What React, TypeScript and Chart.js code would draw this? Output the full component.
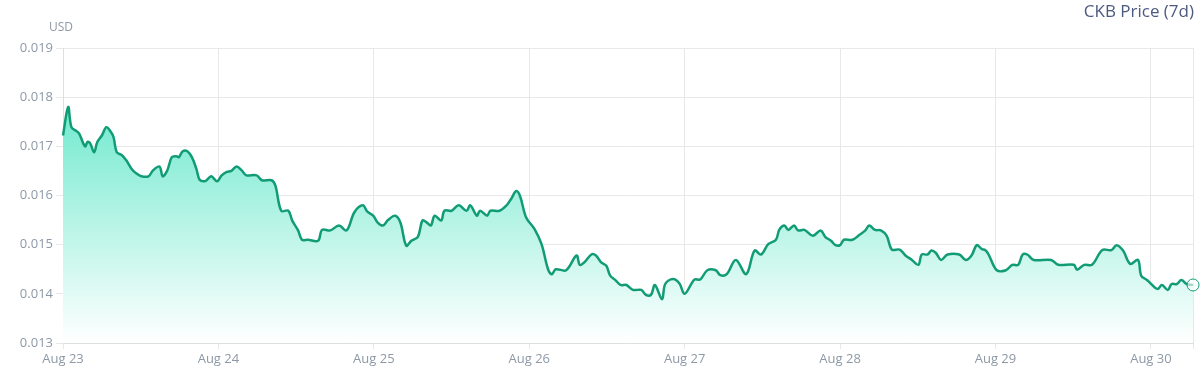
import React, { useEffect, useRef } from "react";
import { Chart, registerables } from "chart.js";

Chart.register(...registerables);

// Hours elapsed since Aug 23 00:00
const hoursFromStart = [
  0, 0.8, 1.3, 2.1, 2.5, 3.4, 3.8, 4.2, 4.8, 5.3, 6.0, 6.7, 7.4, 7.8, 8.3, 9.1, 9.8, 10.6, 11.4, 12.1,
  13.2, 13.9, 14.9, 15.4, 16.1, 16.8, 17.5, 17.9, 18.5, 19.2, 19.9, 20.6, 21.1, 21.9, 22.4, 22.9, 23.8, 24.5, 25.3, 26.0,
  26.8, 27.6, 28.3, 29.9, 30.7, 32.2, 32.8, 33.7, 34.8, 35.4, 36.3, 36.9, 37.8, 39.4, 40.0, 41.3, 42.6, 43.8, 45.0, 46.3,
  47.0, 47.9, 48.6, 49.4, 50.2, 51.3, 52.1, 53.0, 53.8, 54.8, 55.5, 56.1, 56.8, 57.4, 58.4, 58.9, 60.0, 61.1, 62.3, 62.9,
  63.9, 64.4, 65.5, 66.0, 67.4, 68.5, 69.2, 70.0, 70.6, 71.5, 72.8, 73.9, 74.9, 75.5, 76.1, 77.7, 79.3, 79.8, 80.5, 81.6,
  82.3, 83.1, 83.9, 84.5, 85.3, 86.1, 87.0, 88.0, 89.3, 90.0, 90.8, 91.4, 92.5, 93.0, 94.2, 95.2, 96.0, 97.5, 98.4, 99.5,
  100.8, 101.5, 102.5, 103.9, 105.5, 106.8, 107.8, 108.9, 110.1, 110.6, 111.4, 112.0, 112.9, 113.5, 114.5, 115.8, 117.0, 117.7, 118.6, 119.3,
  120.0, 120.6, 121.9, 123.0, 123.9, 124.5, 125.4, 126.3, 127.2, 128.0, 129.2, 130.1, 131.1, 132.1, 132.6, 133.5, 134.1, 134.8, 135.6, 136.6,
  138.4, 139.4, 140.3, 141.1, 141.9, 142.4, 142.9, 144.2, 145.6, 146.6, 147.5, 148.2, 148.9, 149.9, 152.6, 153.7, 156.1, 156.6, 157.7, 158.9,
  160.5, 161.9, 162.7, 163.7, 164.8, 166.0, 166.5, 167.4, 168.6, 169.1, 169.7, 170.6, 171.2, 172.0, 172.7, 173.5, 174.5,
];

const priceUsd = [
  0.01722, 0.0178, 0.01739, 0.01731, 0.01726, 0.017, 0.01709, 0.01706, 0.01688, 0.01709, 0.01722, 0.01739, 0.01729, 0.01719, 0.01688, 0.01682, 0.01671, 0.01654, 0.01644, 0.01639,
  0.01639, 0.01651, 0.01659, 0.01639, 0.01651, 0.01678, 0.0168, 0.01678, 0.0169, 0.0169, 0.01678, 0.01654, 0.01632, 0.01629, 0.01634, 0.01639, 0.01629, 0.01641, 0.01648, 0.0165,
  0.01659, 0.01651, 0.01641, 0.01641, 0.01631, 0.01631, 0.0162, 0.01569, 0.01569, 0.01549, 0.01529, 0.0151, 0.0151, 0.01508, 0.0153, 0.01529, 0.01539, 0.01529, 0.01566, 0.0158,
  0.01567, 0.01559, 0.01545, 0.01539, 0.0155, 0.01559, 0.01545, 0.01498, 0.01508, 0.01516, 0.01549, 0.01546, 0.01539, 0.01559, 0.01549, 0.01569, 0.01569, 0.0158, 0.01569, 0.0158,
  0.01559, 0.01569, 0.01559, 0.01569, 0.01569, 0.0158, 0.01593, 0.01609, 0.01598, 0.01556, 0.01532, 0.01501, 0.0145, 0.0144, 0.0145, 0.01448, 0.01478, 0.01459, 0.01464, 0.0148,
  0.01478, 0.01464, 0.01457, 0.01437, 0.01428, 0.01418, 0.01418, 0.01408, 0.01408, 0.01398, 0.01398, 0.01418, 0.01389, 0.0142, 0.0143, 0.01421, 0.014, 0.01429, 0.01429, 0.01448,
  0.01448, 0.01438, 0.0144, 0.01469, 0.0144, 0.01488, 0.0148, 0.01501, 0.0151, 0.0153, 0.01539, 0.0153, 0.01539, 0.01529, 0.0153, 0.01518, 0.01529, 0.01516, 0.01508, 0.01499,
  0.01499, 0.0151, 0.0151, 0.0152, 0.01529, 0.01539, 0.0153, 0.01529, 0.01518, 0.0149, 0.0149, 0.01478, 0.01469, 0.01459, 0.0148, 0.0148, 0.01488, 0.01483, 0.01469, 0.0148,
  0.0148, 0.01469, 0.01478, 0.01499, 0.01491, 0.01489, 0.01481, 0.01448, 0.01448, 0.01459, 0.01459, 0.0148, 0.0148, 0.01469, 0.01469, 0.01459, 0.01459, 0.01449, 0.01459, 0.01459,
  0.01489, 0.01489, 0.01499, 0.01488, 0.01461, 0.01469, 0.01437, 0.01428, 0.01413, 0.0141, 0.01418, 0.01408, 0.0142, 0.0142, 0.01428, 0.0142, 0.01418,
];

const dayLabels = ["Aug 23", "Aug 24", "Aug 25", "Aug 26", "Aug 27", "Aug 28", "Aug 29", "Aug 30"];
const dayTickHours = [0, 24, 48, 72, 96, 120, 144, 168];
const X_MAX = 174.5;
const Y_MIN = 0.013;
const Y_MAX = 0.019;
const Y_STEP = 0.001;

const titleText = "CKB Price (7d)";
const unitText = "USD";

const FONT = "'Open Sans', 'Noto Sans', sans-serif";
const LINE_COLOR = "#129c76";
const GRID_COLOR = "#e8e8e8";
const TICK_COLOR = "#8d99a6";

const textPlugin = {
  id: "headerTexts",
  afterDraw(chart: any) {
    const { ctx, chartArea } = chart;
    ctx.save();
    ctx.textBaseline = "middle";
    ctx.font = `17px ${FONT}`;
    ctx.fillStyle = "#4d5a80";
    ctx.textAlign = "right";
    ctx.fillText(titleText, 1194, 12);
    ctx.font = `12px ${FONT}`;
    ctx.fillStyle = TICK_COLOR;
    ctx.textAlign = "left";
    ctx.fillText(unitText, chartArea.left - 14, 28);
    ctx.restore();
  },
};

export default function App() {
  const canvasRef = useRef<HTMLCanvasElement | null>(null);

  useEffect(() => {
    document.body.style.margin = "0";
    const canvas = canvasRef.current;
    if (!canvas) return;
    const points = hoursFromStart.map((h, i) => ({ x: h, y: priceUsd[i] }));
    const lastIdx = points.length - 1;

    const chart = new Chart(canvas, {
      type: "line",
      data: {
        datasets: [
          {
            data: points,
            borderColor: LINE_COLOR,
            borderWidth: 2.5,
            tension: 0.35,
            fill: "start",
            clip: false as any,
            pointRadius: points.map((_, i) => (i === lastIdx ? 6 : 0)),
            pointBorderWidth: 1,
            pointBorderColor: LINE_COLOR,
            pointBackgroundColor: "rgba(255,255,255,0.6)",
            backgroundColor: (ctx: any) => {
              const { chart } = ctx;
              const { ctx: c, chartArea } = chart;
              if (!chartArea) return "rgba(120,235,210,0.6)";
              const g = c.createLinearGradient(0, chartArea.top, 0, chartArea.bottom);
              g.addColorStop(0, "rgb(78,228,194)");
              g.addColorStop(1, "rgb(255,255,255)");
              return g;
            },
          },
        ],
      },
      options: {
        animation: false,
        responsive: false,
        maintainAspectRatio: false,
        layout: { padding: { left: 0, right: 5, top: 48, bottom: 0 } },
        plugins: {
          legend: { display: false },
          tooltip: { enabled: false },
          title: { display: false },
        },
        scales: {
          x: {
            type: "linear",
            min: 0,
            max: X_MAX,
            afterBuildTicks: (scale: any) => {
              scale.ticks = [...dayTickHours, X_MAX].map((v) => ({ value: v }));
            },
            afterFit: (scale: any) => {
              scale.height = 43;
            },
            grid: { color: GRID_COLOR, tickLength: 6, drawTicks: true },
            border: { color: "#dedede" },
            ticks: {
              autoSkip: false,
              maxRotation: 0,
              padding: 2,
              color: TICK_COLOR,
              font: { family: FONT, size: 13 },
              callback: (v: any) => {
                const idx = dayTickHours.indexOf(Number(v));
                return idx >= 0 ? dayLabels[idx] : "";
              },
            },
          },
          y: {
            type: "linear",
            min: Y_MIN,
            max: Y_MAX,
            afterFit: (scale: any) => {
              scale.width = 63;
            },
            grid: { color: GRID_COLOR, tickLength: 7 },
            border: { color: "#dedede" },
            ticks: {
              stepSize: Y_STEP,
              padding: 3,
              color: TICK_COLOR,
              font: { family: FONT, size: 13 },
              callback: (v: any) => Number(v).toFixed(3),
            },
          },
        },
      },
      plugins: [textPlugin],
    });

    return () => chart.destroy();
  }, []);

  return (
    <div style={{ width: 1200, height: 386 }}>
      <canvas ref={canvasRef} width={1200} height={386} style={{ display: "block" }} />
    </div>
  );
}
